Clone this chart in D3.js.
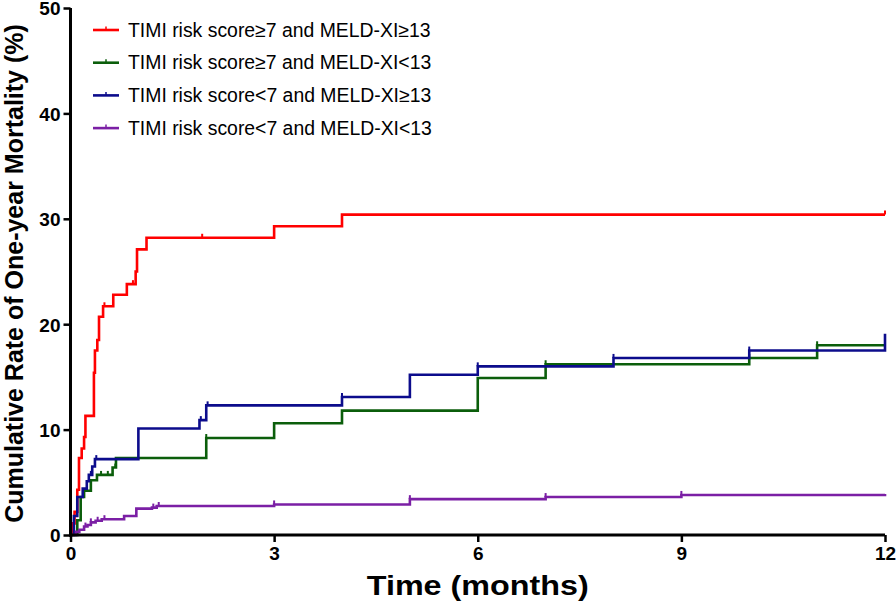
<!DOCTYPE html>
<html>
<head>
<meta charset="utf-8">
<script src="https://cdn.jsdelivr.net/npm/d3@7"></script>
<style>
  body { margin: 0; background: #fff; }
  svg { display: block; font-family: "Liberation Sans", Arial, sans-serif; }
</style>
</head>
<body>
<svg id="chart"></svg>
<script>
// Step points (months, cumulative mortality %)
const redTimes = [0, 0.02, 0.06, 0.1, 0.125, 0.165, 0.2, 0.22, 0.345, 0.36, 0.395, 0.42, 0.48, 0.63, 0.83, 0.96, 0.98, 1.12, 3.0, 4.0, 12]
const redRates = [0, 1.1, 2.2, 4.3, 7.3, 8.2, 9.3, 11.3, 15.4, 17.5, 18.5, 20.7, 21.7, 22.8, 23.8, 25.0, 27.1, 28.2, 29.3, 30.4, 30.4]
const redCensor = [0.39, 0.5, 0.92, 1.94, 12]

const greenTimes = [0, 0.1, 0.15, 0.2, 0.3, 0.39, 0.62, 0.67, 2.0, 3.0, 4.0, 6.0, 7.0, 10.0, 11.0, 12]
const greenRates = [0, 1.4, 3.6, 4.2, 5.2, 5.7, 6.4, 7.3, 9.2, 10.6, 11.8, 14.9, 16.2, 16.8, 18.0, 18.0]
const greenCensor = [0.45, 0.55, 0.66, 2.0, 7.0, 10.0, 11.0]

const blueTimes = [0, 0.05, 0.1, 0.18, 0.24, 0.27, 0.32, 0.36, 1.0, 1.9, 2.0, 4.0, 5.0, 6.0, 8.0, 10.0, 12.0]
const blueRates = [0, 1.8, 3.6, 4.4, 5.1, 5.7, 6.5, 7.2, 10.1, 10.9, 12.3, 13.1, 15.2, 16.0, 16.8, 17.5, 19.1]
const blueCensor = [0.3, 0.38, 1.92, 2.02, 4.0, 6.0, 8.0, 10.0]

const purpleTimes = [0, 0.08, 0.13, 0.2, 0.25, 0.3, 0.37, 0.46, 0.79, 0.97, 1.2, 1.27, 3.0, 5.0, 7.0, 9.0, 12.0]
const purpleRates = [0, 0.3, 0.5, 0.8, 0.95, 1.2, 1.35, 1.5, 1.8, 2.5, 2.6, 2.75, 2.9, 3.4, 3.6, 3.8, 3.9]
const purpleCensor = [0.22, 0.3, 0.4, 0.5, 1.22, 1.3, 3.0, 5.0, 7.0, 9.0]

const seriesNames = [
  'TIMI risk score\u22657 and MELD-XI\u226513',
  'TIMI risk score\u22657 and MELD-XI<13',
  'TIMI risk score<7 and MELD-XI\u226513',
  'TIMI risk score<7 and MELD-XI<13'
]
const seriesColors = ['#ff0000', '#0b5e0b', '#0c0c8c', '#7b1fa5']

const xTicks = [0, 3, 6, 9, 12]
const yTicks = [0, 10, 20, 30, 40, 50]

const width = 896
const height = 601
const margin = { top: 8, right: 11, bottom: 66, left: 70.5 }

const svg = d3.select('#chart')
  .attr('width', width)
  .attr('height', height)

const x = d3.scaleLinear().domain([0, 12]).range([margin.left, width - margin.right])
const y = d3.scaleLinear().domain([0, 50]).range([height - margin.bottom, margin.top])

const series = [
  { times: redTimes, rates: redRates, censor: redCensor },
  { times: greenTimes, rates: greenRates, censor: greenCensor },
  { times: blueTimes, rates: blueRates, censor: blueCensor },
  { times: purpleTimes, rates: purpleRates, censor: purpleCensor }
].map((s, i) => ({
  ...s,
  name: seriesNames[i],
  color: seriesColors[i],
  points: s.times.map((t, j) => [t, s.rates[j]])
}))

// step value at a given time
const valueAt = (s, t) => {
  let v = 0
  s.times.forEach((tt, j) => { if (tt <= t) v = s.rates[j] })
  return v
}

const line = d3.line()
  .x(d => x(d[0]))
  .y(d => y(d[1]))
  .curve(d3.curveStepAfter)

// Curves
const curves = svg.append('g')
series.forEach(s => {
  const g = curves.append('g')
  g.append('path')
    .datum(s.points)
    .attr('fill', 'none')
    .attr('stroke', s.color)
    .attr('stroke-width', 2.6)
    .attr('d', line)

  // censor ticks
  g.selectAll('line')
    .data(s.censor)
    .enter().append('line')
    .attr('x1', d => x(d))
    .attr('x2', d => x(d))
    .attr('y1', d => y(valueAt(s, d)))
    .attr('y2', d => y(valueAt(s, d)) - 4)
    .attr('stroke', s.color)
    .attr('stroke-width', 2)
})

// Axes
const xAxis = svg.append('g')
  .attr('transform', `translate(0,${y(0)})`)
  .call(d3.axisBottom(x).tickValues(xTicks).tickSize(7).tickPadding(5))
const yAxis = svg.append('g')
  .attr('transform', `translate(${x(0)},0)`)
  .call(d3.axisLeft(y).tickValues(yTicks).tickSize(7).tickPadding(3))

;[xAxis, yAxis].forEach(a => {
  a.select('.domain').attr('stroke', '#000').attr('stroke-width', 3)
  a.selectAll('.tick line').attr('stroke', '#000').attr('stroke-width', 2.5)
  a.selectAll('.tick text')
    .attr('fill', '#000')
    .attr('font-size', 19)
    .attr('font-weight', 'bold')
    .attr('font-family', '"Liberation Sans", Arial, sans-serif')
})
yAxis.selectAll('.tick text').attr('dy', '0.36em')
xAxis.select('.domain').attr('d', `M${x(0) - 1.5},0H${x(12)}`)
yAxis.select('.domain').attr('d', `M0,${y(0) + 1.5}V${y(50)}`)

// Axis titles
svg.append('text')
  .attr('x', (x(0) + x(12)) / 2)
  .attr('y', 595)
  .attr('text-anchor', 'middle')
  .attr('font-size', 28)
  .attr('font-weight', 'bold')
  .attr('textLength', 222)
  .attr('lengthAdjust', 'spacingAndGlyphs')
  .text('Time (months)')

svg.append('text')
  .attr('transform', `translate(23,${(y(0) + y(50)) / 2 + 2}) rotate(-90)`)
  .attr('text-anchor', 'middle')
  .attr('font-size', 25)
  .attr('font-weight', 'bold')
  .text('Cumulative Rate of One-year Mortality (%)')

// Legend
const legend = svg.append('g')
  .attr('transform', 'translate(93,30)')
const item = legend.selectAll('g')
  .data(series)
  .enter().append('g')
  .attr('transform', (d, i) => `translate(0,${i * 32.7})`)
item.append('line')
  .attr('x1', 0).attr('x2', 26)
  .attr('stroke', d => d.color)
  .attr('stroke-width', 2.6)
item.append('line')
  .attr('x1', 13).attr('x2', 13)
  .attr('y1', 0).attr('y2', -3.5)
  .attr('stroke', d => d.color)
  .attr('stroke-width', 1.5)
item.append('text')
  .attr('x', 35)
  .attr('y', 6.5)
  .attr('font-size', 19.4)
  .attr('fill', '#000')
  .text(d => d.name)
</script>
</body>
</html>
